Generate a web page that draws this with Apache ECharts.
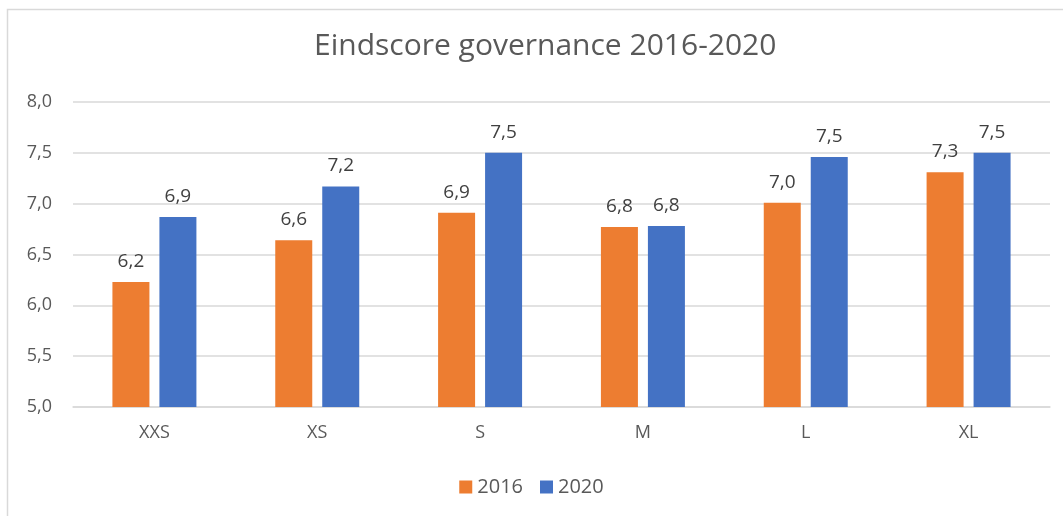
<!DOCTYPE html>
<html>
<head>
<meta charset="utf-8">
<script src="https://cdn.jsdelivr.net/npm/echarts@6/dist/echarts.min.js"></script>
<style>
  html, body { margin: 0; padding: 0; background: #fff; }
  #chart { width: 1063px; height: 516px; }
</style>
</head>
<body>
<div id="chart"></div>
<script>
// data
const categories = ['XXS', 'XS', 'S', 'M', 'L', 'XL']
const seriesNames = ['2016', '2020']
const values2016 = [6.23, 6.64, 6.91, 6.77, 7.01, 7.31]
const values2020 = [6.87, 7.17, 7.50, 6.78, 7.46, 7.50]
const colors = ['#ED7D31', '#4472C4']

const fmt = (v) => v.toFixed(1).replace('.', ',')
const font = '"Open Sans", "Noto Sans", sans-serif'

const chart = echarts.init(document.getElementById('chart'))

const makeSeries = (name, data, color) => ({
  name: name,
  type: 'bar',
  data: data,
  barWidth: 37,
  barGap: '27%',
  itemStyle: { color: color },
  label: {
    show: true,
    position: 'top',
    distance: 11,
    color: '#404040',
    fontSize: 19,
    fontFamily: font,
    formatter: (p) => fmt(p.value),
  },
})

chart.setOption({
  animation: false,
  textStyle: { fontFamily: font },
  title: {
    text: 'Eindscore governance 2016-2020',
    left: 309,
    top: 26,
    textStyle: {
      color: '#595959',
      fontSize: 30,
      fontWeight: 'normal',
      fontFamily: font,
    },
  },
  legend: {
    bottom: 14,
    left: 'center',
    itemWidth: 13,
    itemHeight: 13,
    itemGap: 17,
    icon: 'rect',
    textStyle: { color: '#595959', fontSize: 20, fontFamily: font },
    data: seriesNames,
  },
  grid: {
    left: 73,
    right: 13,
    top: 102,
    bottom: 109,
    containLabel: false,
  },
  xAxis: {
    type: 'category',
    data: categories,
    axisLine: { show: true, lineStyle: { color: '#d9d9d9', width: 1.5 } },
    axisTick: { show: false },
    axisLabel: {
      color: '#595959',
      fontSize: 18,
      margin: 17,
      fontFamily: font,
    },
  },
  yAxis: {
    type: 'value',
    min: 5,
    max: 8,
    interval: 0.5,
    axisLine: { show: false },
    axisTick: { show: false },
    splitLine: { lineStyle: { color: '#d9d9d9', width: 1.5 } },
    axisLabel: {
      color: '#595959',
      fontSize: 18,
      margin: 21,
      fontFamily: font,
      formatter: (v) => fmt(v),
    },
  },
  graphic: [
    {
      type: 'polyline',
      shape: { points: [[7.5, 516], [7.5, 9.5], [1063, 9.5]] },
      style: { stroke: '#d9d9d9', lineWidth: 1.5, fill: null },
      silent: true,
    },
  ],
  series: [
    makeSeries(seriesNames[0], values2016, colors[0]),
    makeSeries(seriesNames[1], values2020, colors[1]),
  ],
})
</script>
</body>
</html>
